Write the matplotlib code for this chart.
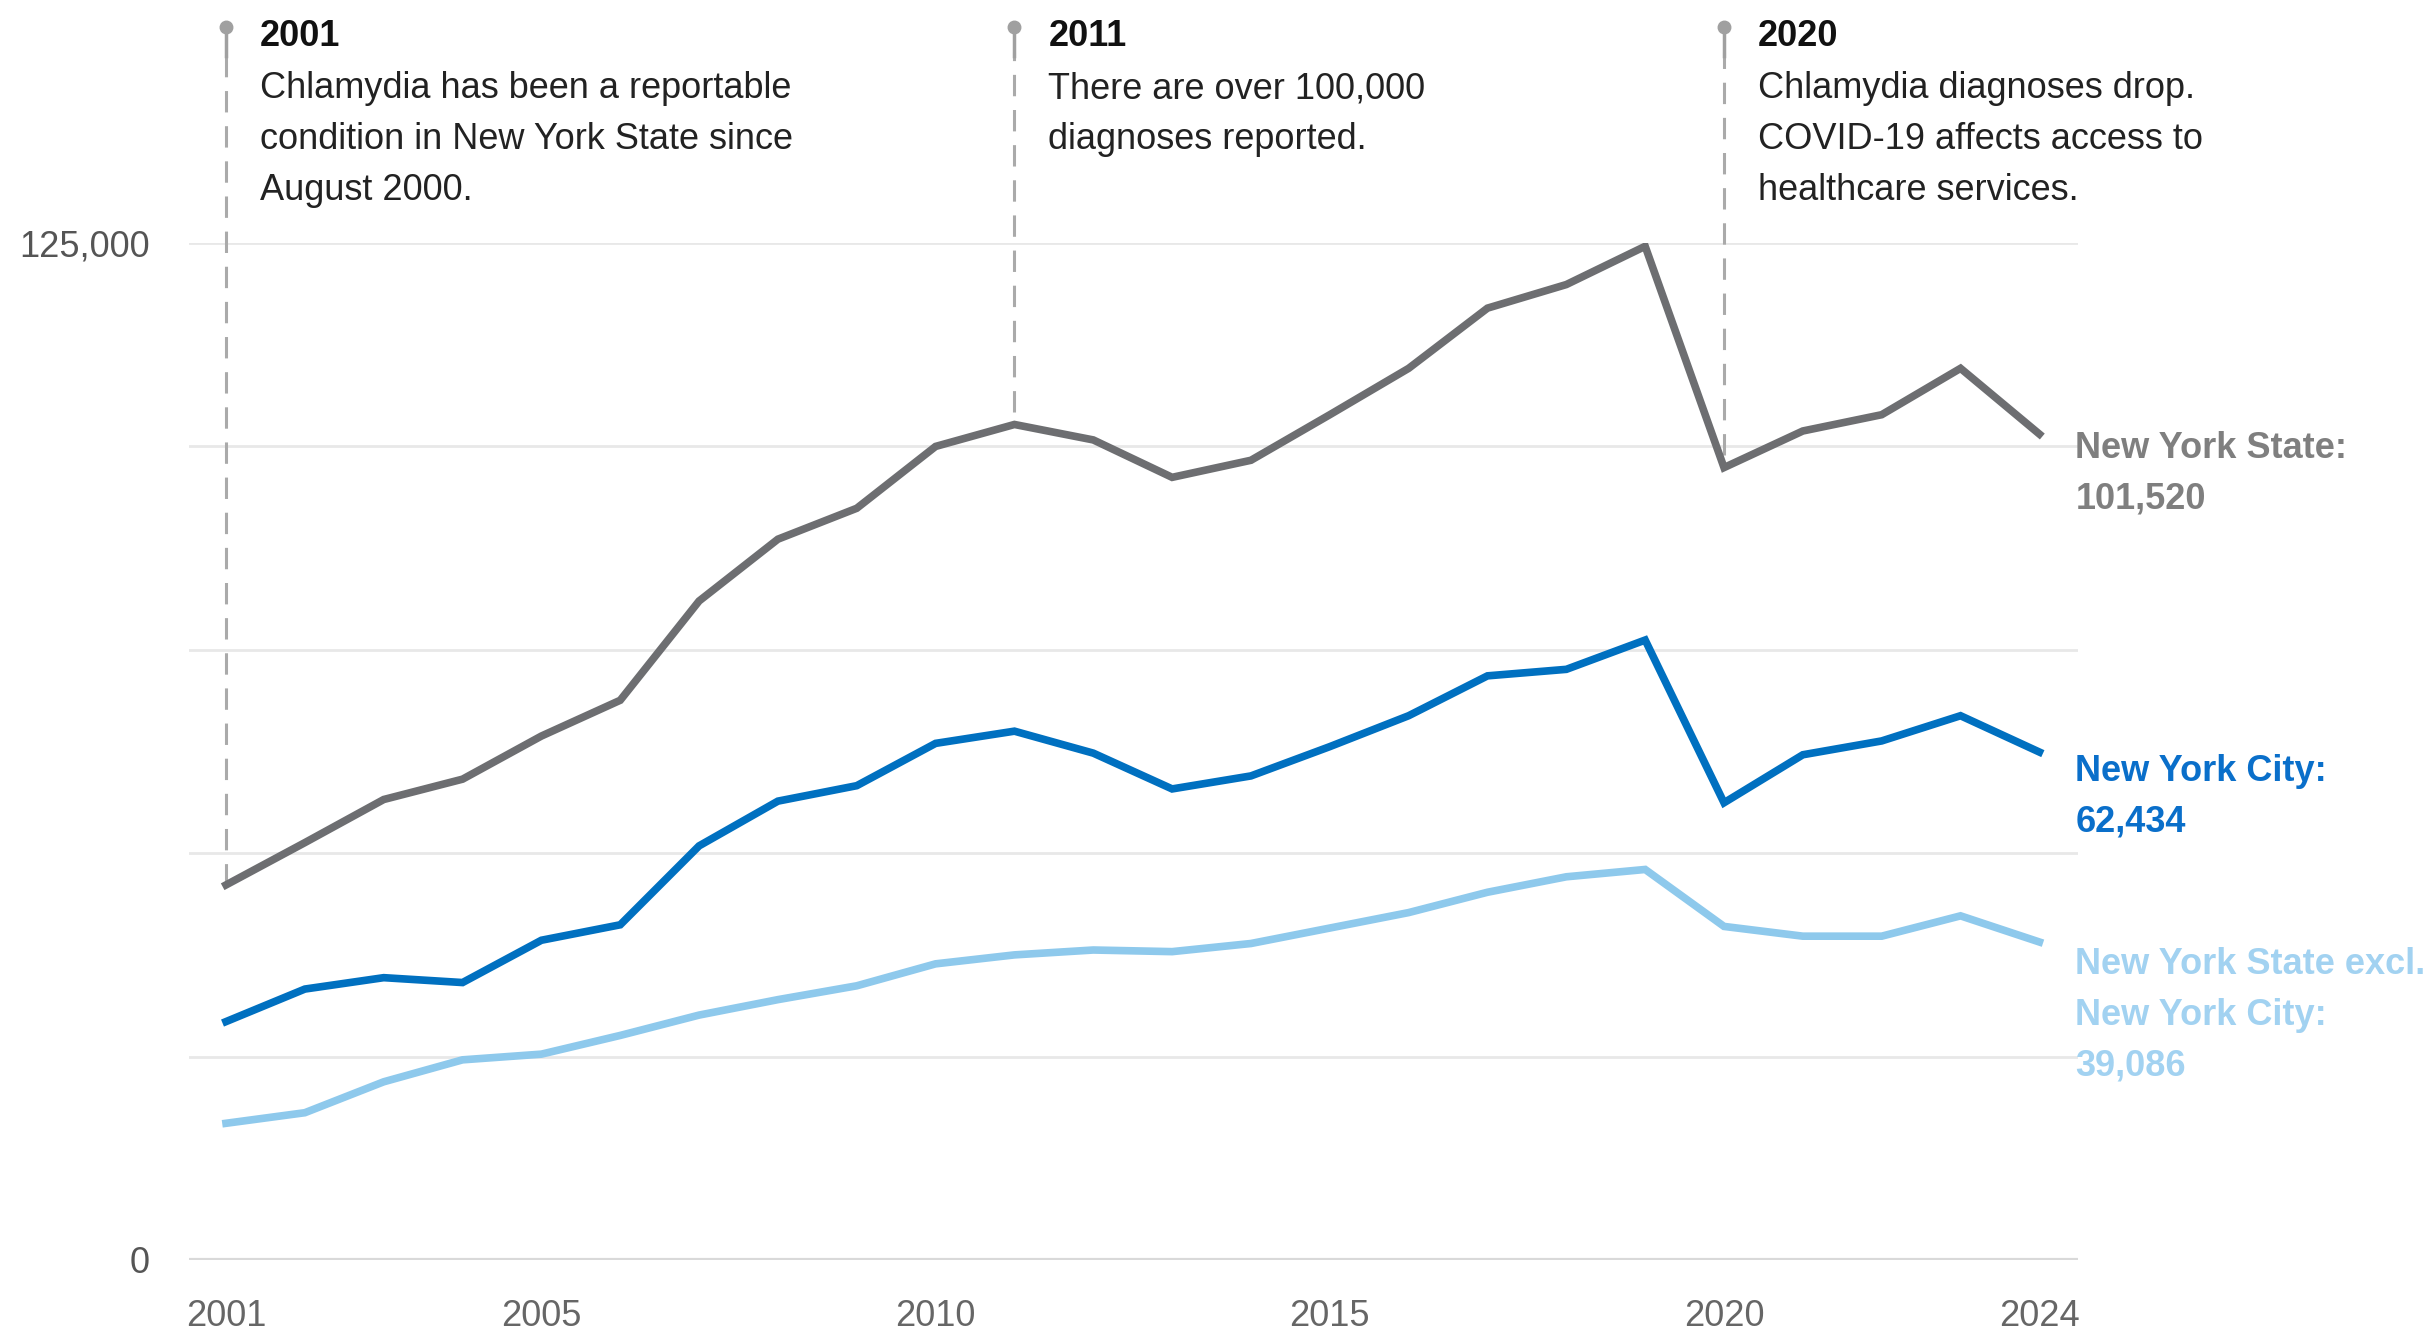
import matplotlib.pyplot as plt
from matplotlib import font_manager

# Chlamydia diagnoses, New York, 2001-2024
years = list(range(2001, 2025))
nys = [46100, 51300, 56600, 59100, 64400, 68800, 81000, 88600, 92400, 100000, 102700, 100800,
       96200, 98300, 103900, 109600, 117000, 119900, 124600, 97400, 101900, 103900, 109600, 101520]
nyc = [29300, 33300, 34700, 34100, 39300, 41200, 50900, 56400, 58300, 63500, 65000, 62300,
       57900, 59500, 63100, 66900, 71800, 72600, 76200, 56200, 62100, 63800, 66900, 62434]
excl = [16800, 18100, 21900, 24600, 25300, 27600, 30100, 32000, 33700, 36400, 37500, 38100,
        37900, 38900, 40800, 42700, 45200, 47100, 48000, 41000, 39800, 39800, 42300, 39086]

series_labels = ['New York State:\n101,520', 'New York City:\n62,434',
                 'New York State excl.\nNew York City:\n39,086']

event_years = [2001, 2011, 2020]
event_titles = ['2001', '2011', '2020']
event_texts = ['Chlamydia has been a reportable\ncondition in New York State since\nAugust 2000.',
               'There are over 100,000\ndiagnoses reported.',
               'Chlamydia diagnoses drop.\nCOVID-19 affects access to\nhealthcare services.']

x_ticks = [2001, 2005, 2010, 2015, 2020, 2024]

names = {f.name for f in font_manager.fontManager.ttflist}
if 'Liberation Sans Narrow' in names:
    FONT = 'Liberation Sans Narrow'
    FS = 31
else:
    FONT = 'Liberation Sans'
    FS = 26
plt.rcParams['font.family'] = [FONT, 'DejaVu Sans']
LS = 1.58

fig = plt.figure(figsize=(24.29, 13.34), dpi=100)
ax = fig.add_axes([0.0778, 0.0555, 0.7777, 0.7623])

colors = ['#6d6e71', '#0070c0', '#8ec9ec']
label_colors = ['#7f7f7f', '#0a6fca', '#a2d2f1']
label_dy = [2.5, -1.5, -3.5]

for g in [25000, 50000, 75000, 100000, 125000]:
    ax.axhline(g, color='#e8e8e8', lw=2, zorder=0)
ax.axhline(0, color='#d9d9d9', lw=3, zorder=0)

for vals, c, lab, lc, dy in zip([nys, nyc, excl], colors, series_labels, label_colors, label_dy):
    ax.plot(years, vals, color=c, lw=5.5, solid_joinstyle='miter', zorder=3)
    ax.annotate(lab, xy=(years[-1], vals[-1]), xytext=(26, dy), textcoords='offset points',
                ha='left', va='top', fontsize=FS, fontweight='bold', color=lc,
                linespacing=LS, annotation_clip=False)

# timeline markers
for yr, title, txt in zip(event_years, event_titles, event_texts):
    top = nys[years.index(yr)]
    end = top + (0 if yr == 2001 else 1500)
    ax.plot([yr, yr], [end, 148500], color='#aaaaaa', lw=2.2, dashes=(7, 4.5), clip_on=False, zorder=2)
    ax.plot([yr, yr], [148000, 151400], color='#a0a0a0', lw=2.5, clip_on=False, zorder=2)
    ax.plot([yr], [151600], marker='o', ms=9, color='#a0a0a0', clip_on=False, zorder=2)
    ax.text(yr + 0.43, 150400, title, fontsize=FS, fontweight='bold', color='#111111',
            ha='left', va='center')
    ax.text(yr + 0.43, 146100, txt, fontsize=FS, color='#222222', ha='left', va='top',
            linespacing=LS)

ax.set_xlim(2000.53, 2024.49)
ax.set_ylim(0, 125000)
ax.set_xticks(x_ticks)
ax.set_xticklabels([str(t) for t in x_ticks])
ax.set_yticks([0, 125000])
ax.set_yticklabels(['0', '125,000'])
ax.tick_params(axis='x', length=0, pad=28, labelsize=FS, labelcolor='#666666')
ax.tick_params(axis='y', length=0, pad=28, labelsize=FS, labelcolor='#555555')
for s in ax.spines.values():
    s.set_visible(False)

fig.savefig('out.png', dpi=100, facecolor='white')
